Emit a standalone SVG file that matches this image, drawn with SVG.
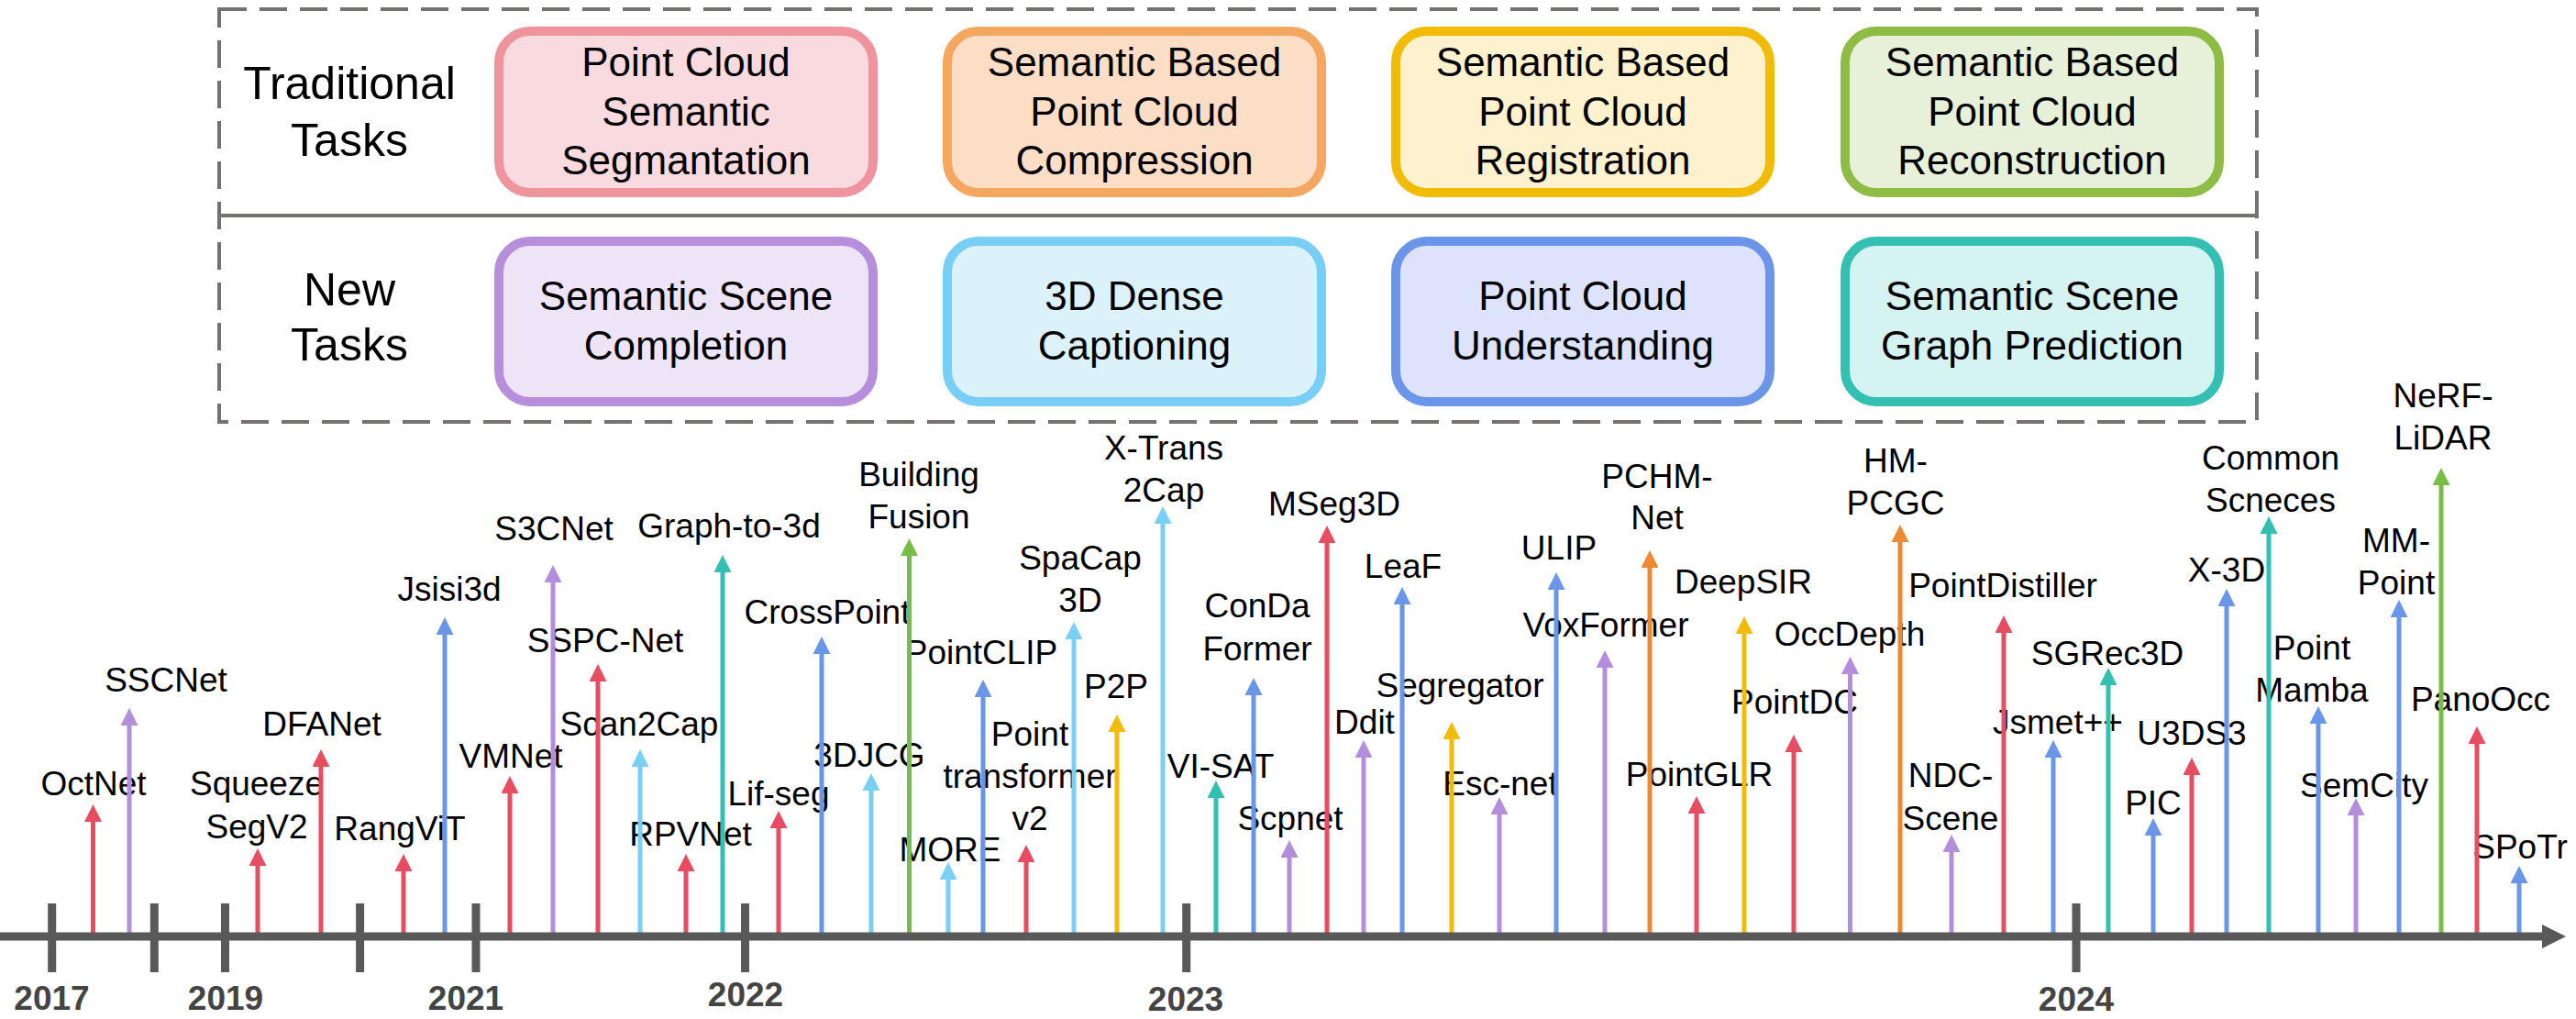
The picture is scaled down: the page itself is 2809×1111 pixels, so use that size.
<svg xmlns="http://www.w3.org/2000/svg" width="2809" height="1111" viewBox="0 0 2809 1111">
<style>
text{font-family:"Liberation Sans",Arial,sans-serif;fill:#000}
.hd{font-size:50px;text-anchor:middle}
.bx{font-size:44px;text-anchor:middle}
.lb{font-size:37px;text-anchor:middle}
.yr{font-size:37px;font-weight:bold;text-anchor:middle;fill:#444}
.box{stroke-width:10}
.st{stroke-width:5;fill:none}
.red{stroke:#E84C60;marker-end:url(#mRed)}
.pur{stroke:#B48EDD;marker-end:url(#mPur)}
.blu{stroke:#6A96EA;marker-end:url(#mBlu)}
.cya{stroke:#79CFF5;marker-end:url(#mCya)}
.tea{stroke:#33BFB1;marker-end:url(#mTea)}
.gre{stroke:#78BD45;marker-end:url(#mGre)}
.yel{stroke:#F2BB05;marker-end:url(#mYel)}
.ora{stroke:#EE8833;marker-end:url(#mOra)}
.tick{stroke:#595959;stroke-width:9}
</style>
<defs>
<marker id="mRed" viewBox="0 0 19 19" refX="9" refY="9.5" markerWidth="19" markerHeight="19" markerUnits="userSpaceOnUse" orient="auto"><path d="M0,0L19,9.5L0,19z" fill="#E84C60"/></marker>
<marker id="mPur" viewBox="0 0 19 19" refX="9" refY="9.5" markerWidth="19" markerHeight="19" markerUnits="userSpaceOnUse" orient="auto"><path d="M0,0L19,9.5L0,19z" fill="#B48EDD"/></marker>
<marker id="mBlu" viewBox="0 0 19 19" refX="9" refY="9.5" markerWidth="19" markerHeight="19" markerUnits="userSpaceOnUse" orient="auto"><path d="M0,0L19,9.5L0,19z" fill="#6A96EA"/></marker>
<marker id="mCya" viewBox="0 0 19 19" refX="9" refY="9.5" markerWidth="19" markerHeight="19" markerUnits="userSpaceOnUse" orient="auto"><path d="M0,0L19,9.5L0,19z" fill="#79CFF5"/></marker>
<marker id="mTea" viewBox="0 0 19 19" refX="9" refY="9.5" markerWidth="19" markerHeight="19" markerUnits="userSpaceOnUse" orient="auto"><path d="M0,0L19,9.5L0,19z" fill="#33BFB1"/></marker>
<marker id="mGre" viewBox="0 0 19 19" refX="9" refY="9.5" markerWidth="19" markerHeight="19" markerUnits="userSpaceOnUse" orient="auto"><path d="M0,0L19,9.5L0,19z" fill="#78BD45"/></marker>
<marker id="mYel" viewBox="0 0 19 19" refX="9" refY="9.5" markerWidth="19" markerHeight="19" markerUnits="userSpaceOnUse" orient="auto"><path d="M0,0L19,9.5L0,19z" fill="#F2BB05"/></marker>
<marker id="mOra" viewBox="0 0 19 19" refX="9" refY="9.5" markerWidth="19" markerHeight="19" markerUnits="userSpaceOnUse" orient="auto"><path d="M0,0L19,9.5L0,19z" fill="#EE8833"/></marker>
<marker id="mAxis" viewBox="0 0 26 26" refX="4" refY="13" markerWidth="26" markerHeight="26" markerUnits="userSpaceOnUse" orient="auto"><path d="M0,0L26,13L0,26z" fill="#595959"/></marker>
</defs>
<rect width="2809" height="1111" fill="#fff"/>

<g id="task-panel">
<rect x="239" y="10" width="2222" height="450" fill="none" stroke="#767171" stroke-width="4" stroke-dasharray="30 14"/>
<line x1="239" y1="235" x2="2461" y2="235" stroke="#767171" stroke-width="4"/>
</g>
<g id="hdr-traditional"><text class="hd" x="381" y="108">Traditional</text><text class="hd" x="381" y="170">Tasks</text></g>
<g id="hdr-new"><text class="hd" x="381" y="333">New</text><text class="hd" x="381" y="393">Tasks</text></g>

<g id="box-segmentation"><rect class="box" x="544" y="34" width="408" height="176" rx="34" fill="#F9DADF" stroke="#EF949C"/><text class="bx" x="748" y="83">Point Cloud</text><text class="bx" x="748" y="137">Semantic</text><text class="bx" x="748" y="190">Segmantation</text></g>
<g id="box-compression"><rect class="box" x="1033" y="34" width="408" height="176" rx="34" fill="#FBDEC5" stroke="#F4A75F"/><text class="bx" x="1237" y="83">Semantic Based</text><text class="bx" x="1237" y="137">Point Cloud</text><text class="bx" x="1237" y="190">Compression</text></g>
<g id="box-registration"><rect class="box" x="1522" y="34" width="408" height="176" rx="34" fill="#FEF1CD" stroke="#F2BB05"/><text class="bx" x="1726" y="83">Semantic Based</text><text class="bx" x="1726" y="137">Point Cloud</text><text class="bx" x="1726" y="190">Registration</text></g>
<g id="box-reconstruction"><rect class="box" x="2012" y="34" width="408" height="176" rx="34" fill="#E7F1D9" stroke="#8FBC45"/><text class="bx" x="2216" y="83">Semantic Based</text><text class="bx" x="2216" y="137">Point Cloud</text><text class="bx" x="2216" y="190">Reconstruction</text></g>

<g id="box-ssc"><rect class="box" x="544" y="263" width="408" height="175" rx="34" fill="#EEE4F7" stroke="#B68EDB"/><text class="bx" x="748" y="338">Semantic Scene</text><text class="bx" x="748" y="392">Completion</text></g>
<g id="box-captioning"><rect class="box" x="1033" y="263" width="408" height="175" rx="34" fill="#DBF2FA" stroke="#79CEF5"/><text class="bx" x="1237" y="338">3D Dense</text><text class="bx" x="1237" y="392">Captioning</text></g>
<g id="box-understanding"><rect class="box" x="1522" y="263" width="408" height="175" rx="34" fill="#DCE3FA" stroke="#6A95E8"/><text class="bx" x="1726" y="338">Point Cloud</text><text class="bx" x="1726" y="392">Understanding</text></g>
<g id="box-scenegraph"><rect class="box" x="2012" y="263" width="408" height="175" rx="34" fill="#D5F3F0" stroke="#33BFB1"/><text class="bx" x="2216" y="338">Semantic Scene</text><text class="bx" x="2216" y="392">Graph Prediction</text></g>

<g id="labels">
<g id="m-octnet"><text class="lb" x="102" y="867">OctNet</text></g>
<g id="m-sscnet"><text class="lb" x="181" y="754">SSCNet</text></g>
<g id="m-squeezesegv2"><text class="lb" x="280" y="867">Squeeze</text><text class="lb" x="280" y="914">SegV2</text></g>
<g id="m-dfanet"><text class="lb" x="351" y="802">DFANet</text></g>
<g id="m-rangvit"><text class="lb" x="436" y="916">RangViT</text></g>
<g id="m-jsisi3d"><text class="lb" x="490" y="655">Jsisi3d</text></g>
<g id="m-vmnet"><text class="lb" x="557" y="837">VMNet</text></g>
<g id="m-s3cnet"><text class="lb" x="604" y="589">S3CNet</text></g>
<g id="m-sspcnet"><text class="lb" x="660" y="711">SSPC-Net</text></g>
<g id="m-scan2cap"><text class="lb" x="697" y="802">Scan2Cap</text></g>
<g id="m-rpvnet"><text class="lb" x="753" y="922">RPVNet</text></g>
<g id="m-graphto3d"><text class="lb" x="795" y="586">Graph-to-3d</text></g>
<g id="m-lifseg"><text class="lb" x="849" y="878">Lif-seg</text></g>
<g id="m-crosspoint"><text class="lb" x="902" y="680">CrossPoint</text></g>
<g id="m-3djcg"><text class="lb" x="948" y="836">3DJCG</text></g>
<g id="m-buildingfusion"><text class="lb" x="1002" y="530">Building</text><text class="lb" x="1002" y="576">Fusion</text></g>
<g id="m-more"><text class="lb" x="1036" y="939">MORE</text></g>
<g id="m-pointclip"><text class="lb" x="1070" y="724">PointCLIP</text></g>
<g id="m-ptv2"><text class="lb" x="1123" y="813">Point</text><text class="lb" x="1123" y="859">transformer</text><text class="lb" x="1123" y="905">v2</text></g>
<g id="m-spacap3d"><text class="lb" x="1178" y="621">SpaCap</text><text class="lb" x="1178" y="667">3D</text></g>
<g id="m-p2p"><text class="lb" x="1217" y="761">P2P</text></g>
<g id="m-xtrans2cap"><text class="lb" x="1269" y="501">X-Trans</text><text class="lb" x="1269" y="547">2Cap</text></g>
<g id="m-visat"><text class="lb" x="1331" y="848">VI-SAT</text></g>
<g id="m-condaformer"><text class="lb" x="1371" y="673">ConDa</text><text class="lb" x="1371" y="720">Former</text></g>
<g id="m-scpnet"><text class="lb" x="1407" y="905">Scpnet</text></g>
<g id="m-mseg3d"><text class="lb" x="1455" y="562">MSeg3D</text></g>
<g id="m-ddit"><text class="lb" x="1488" y="800">Ddit</text></g>
<g id="m-leaf"><text class="lb" x="1530" y="630">LeaF</text></g>
<g id="m-segregator"><text class="lb" x="1592" y="760">Segregator</text></g>
<g id="m-escnet"><text class="lb" x="1636" y="867">Esc-net</text></g>
<g id="m-ulip"><text class="lb" x="1700" y="610">ULIP</text></g>
<g id="m-voxformer"><text class="lb" x="1751" y="694">VoxFormer</text></g>
<g id="m-pchmnet"><text class="lb" x="1807" y="532">PCHM-</text><text class="lb" x="1807" y="577">Net</text></g>
<g id="m-pointglr"><text class="lb" x="1853" y="857">PointGLR</text></g>
<g id="m-deepsir"><text class="lb" x="1901" y="647">DeepSIR</text></g>
<g id="m-pointdc"><text class="lb" x="1957" y="778">PointDC</text></g>
<g id="m-occdepth"><text class="lb" x="2017" y="704">OccDepth</text></g>
<g id="m-hmpcgc"><text class="lb" x="2067" y="515">HM-</text><text class="lb" x="2067" y="561">PCGC</text></g>
<g id="m-ndcscene"><text class="lb" x="2127" y="858">NDC-</text><text class="lb" x="2127" y="905">Scene</text></g>
<g id="m-pointdistiller"><text class="lb" x="2184" y="651">PointDistiller</text></g>
<g id="m-jsmet"><text class="lb" x="2244" y="800">Jsmet++</text></g>
<g id="m-sgrec3d"><text class="lb" x="2298" y="725">SGRec3D</text></g>
<g id="m-pic"><text class="lb" x="2348" y="888">PIC</text></g>
<g id="m-u3ds3"><text class="lb" x="2390" y="812">U3DS3</text></g>
<g id="m-x3d"><text class="lb" x="2428" y="634">X-3D</text></g>
<g id="m-commonscenes"><text class="lb" x="2476" y="512">Common</text><text class="lb" x="2476" y="558">Scneces</text></g>
<g id="m-pointmamba"><text class="lb" x="2521" y="719">Point</text><text class="lb" x="2521" y="765">Mamba</text></g>
<g id="m-semcity"><text class="lb" x="2578" y="869">SemCity</text></g>
<g id="m-mmpoint"><text class="lb" x="2613" y="602">MM-</text><text class="lb" x="2613" y="648">Point</text></g>
<g id="m-nerflidar"><text class="lb" x="2664" y="444">NeRF-</text><text class="lb" x="2664" y="490">LiDAR</text></g>
<g id="m-panoocc"><text class="lb" x="2705" y="775">PanoOcc</text></g>
<g id="m-spotr"><text class="lb" x="2748" y="936">SPoTr</text></g>
</g>

<g id="connectors">
<line class="st red" x1="101.5" y1="1018" x2="101.5" y2="887"/>
<line class="st pur" x1="141" y1="1018" x2="141" y2="782"/>
<line class="st red" x1="281" y1="1018" x2="281" y2="935"/>
<line class="st red" x1="350" y1="1018" x2="350" y2="827"/>
<line class="st red" x1="440" y1="1018" x2="440" y2="941"/>
<line class="st blu" x1="485" y1="1018" x2="485" y2="683"/>
<line class="st red" x1="556" y1="1018" x2="556" y2="856"/>
<line class="st pur" x1="603" y1="1018" x2="603" y2="626"/>
<line class="st red" x1="652" y1="1018" x2="652" y2="734"/>
<line class="st cya" x1="698" y1="1018" x2="698" y2="827"/>
<line class="st red" x1="748" y1="1018" x2="748" y2="941"/>
<line class="st tea" x1="788" y1="1018" x2="788" y2="615"/>
<line class="st red" x1="849" y1="1018" x2="849" y2="894"/>
<line class="st blu" x1="896" y1="1018" x2="896" y2="704"/>
<line class="st cya" x1="950" y1="1018" x2="950" y2="853"/>
<line class="st gre" x1="991.5" y1="1018" x2="991.5" y2="597"/>
<line class="st cya" x1="1034" y1="1018" x2="1034" y2="950"/>
<line class="st blu" x1="1072" y1="1018" x2="1072" y2="751"/>
<line class="st red" x1="1119" y1="1018" x2="1119" y2="931"/>
<line class="st cya" x1="1171" y1="1018" x2="1171" y2="688"/>
<line class="st yel" x1="1218" y1="1018" x2="1218" y2="789"/>
<line class="st cya" x1="1268" y1="1018" x2="1268" y2="562"/>
<line class="st tea" x1="1326" y1="1018" x2="1326" y2="861"/>
<line class="st blu" x1="1367" y1="1018" x2="1367" y2="749"/>
<line class="st pur" x1="1406" y1="1018" x2="1406" y2="926"/>
<line class="st red" x1="1447" y1="1018" x2="1447" y2="583"/>
<line class="st pur" x1="1487" y1="1018" x2="1487" y2="817"/>
<line class="st blu" x1="1529" y1="1018" x2="1529" y2="650"/>
<line class="st yel" x1="1583" y1="1018" x2="1583" y2="797"/>
<line class="st pur" x1="1635" y1="1018" x2="1635" y2="879"/>
<line class="st blu" x1="1697" y1="1018" x2="1697" y2="634"/>
<line class="st pur" x1="1750" y1="1018" x2="1750" y2="719"/>
<line class="st ora" x1="1799" y1="1018" x2="1799" y2="610"/>
<line class="st red" x1="1850" y1="1018" x2="1850" y2="878"/>
<line class="st yel" x1="1902" y1="1018" x2="1902" y2="682"/>
<line class="st red" x1="1956" y1="1018" x2="1956" y2="811"/>
<line class="st pur" x1="2017.5" y1="1018" x2="2017.5" y2="726"/>
<line class="st ora" x1="2072" y1="1018" x2="2072" y2="582"/>
<line class="st pur" x1="2128" y1="1018" x2="2128" y2="920"/>
<line class="st red" x1="2185" y1="1018" x2="2185" y2="681"/>
<line class="st blu" x1="2239" y1="1018" x2="2239" y2="817"/>
<line class="st tea" x1="2299" y1="1018" x2="2299" y2="738"/>
<line class="st blu" x1="2348" y1="1018" x2="2348" y2="902"/>
<line class="st red" x1="2390" y1="1018" x2="2390" y2="836"/>
<line class="st blu" x1="2428" y1="1018" x2="2428" y2="652"/>
<line class="st tea" x1="2474" y1="1018" x2="2474" y2="573"/>
<line class="st blu" x1="2528" y1="1018" x2="2528" y2="780"/>
<line class="st pur" x1="2569" y1="1018" x2="2569" y2="880"/>
<line class="st blu" x1="2616" y1="1018" x2="2616" y2="664"/>
<line class="st gre" x1="2662" y1="1018" x2="2662" y2="520"/>
<line class="st red" x1="2701" y1="1018" x2="2701" y2="802"/>
<line class="st blu" x1="2747" y1="1018" x2="2747" y2="954"/>
</g>

<g id="axis">
<line x1="0" y1="1021" x2="2776" y2="1021" stroke="#595959" stroke-width="9" marker-end="url(#mAxis)"/>
<line class="tick" x1="56.7" y1="985" x2="56.7" y2="1060"/>
<line class="tick" x1="168.3" y1="985" x2="168.3" y2="1060"/>
<line class="tick" x1="245.5" y1="985" x2="245.5" y2="1060"/>
<line class="tick" x1="392.6" y1="985" x2="392.6" y2="1060"/>
<line class="tick" x1="519" y1="985" x2="519" y2="1060"/>
<line class="tick" x1="812.5" y1="985" x2="812.5" y2="1060"/>
<line class="tick" x1="1293.7" y1="985" x2="1293.7" y2="1060"/>
<line class="tick" x1="2264" y1="985" x2="2264" y2="1060"/>
<text class="yr" x="56.5" y="1101">2017</text>
<text class="yr" x="246" y="1101">2019</text>
<text class="yr" x="508" y="1101">2021</text>
<text class="yr" x="813" y="1097">2022</text>
<text class="yr" x="1293" y="1102">2023</text>
<text class="yr" x="2264" y="1102">2024</text>
</g>
</svg>
